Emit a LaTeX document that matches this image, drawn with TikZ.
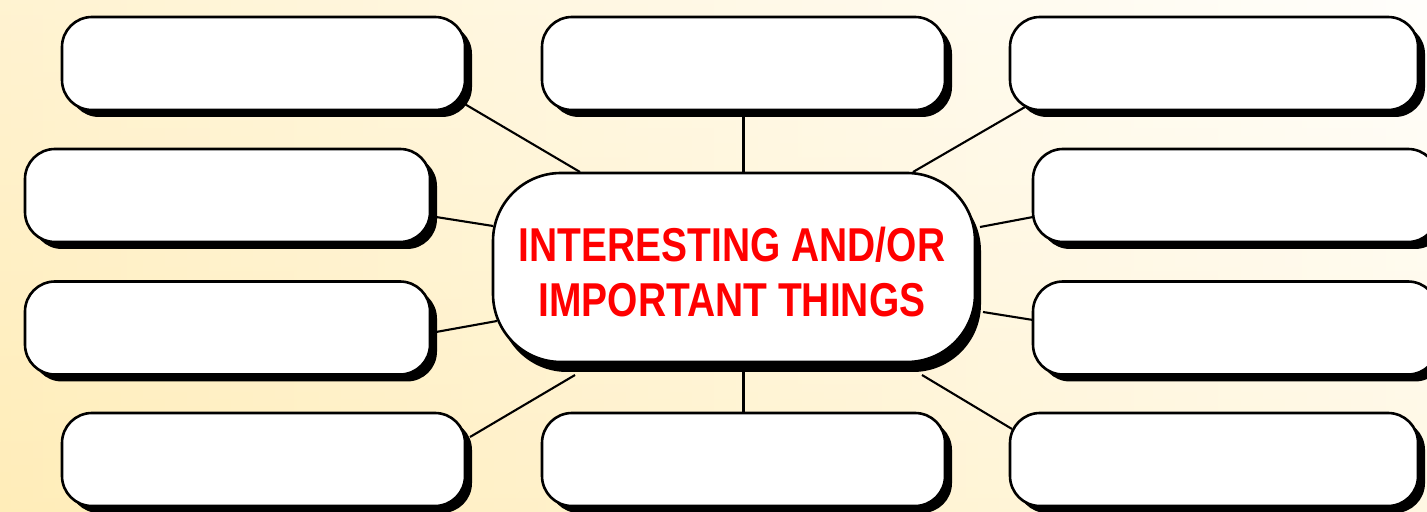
\documentclass[tikz,border=0pt]{standalone}
\usepackage{fontspec}
\newfontfamily\titlefont[FakeStretch=0.82]{Liberation Sans}
\usetikzlibrary{shadows}
\definecolor{bgL}{HTML}{FFEDB9}
\definecolor{bgM}{HTML}{FFF4D6}
\definecolor{bgR}{HTML}{FFFEFA}
\definecolor{titlered}{HTML}{FF0000}
\begin{document}
\begin{tikzpicture}[x=0.5pt,y=-0.5pt,
  box/.style={draw=black, line width=1.3pt, fill=white, rounded corners=15pt,
    inner sep=0pt, minimum width=201.5pt, minimum height=46.5pt,
    drop shadow={shadow xshift=3.5pt, shadow yshift=-3.5pt, fill=black, opacity=1}},
  hub/.style={draw=black, line width=1.3pt, fill=white, rounded corners=34pt,
    inner sep=0pt, minimum width=241pt, minimum height=94.5pt,
    drop shadow={shadow xshift=3pt, shadow yshift=-5pt, fill=black, opacity=1}},
  conn/.style={draw=black, line width=1.05pt},
  title/.style={text=titlered, align=center, font=\titlefont\bfseries\fontsize{23.75}{27.5}\selectfont}]
\useasboundingbox (0,0) rectangle (1427,512);
\clip (0,0) rectangle (1427,512);
% background
\shade[left color=bgL, right color=bgR] (0,0) rectangle (1427,512);
\shade[top color=white, bottom color=bgL, opacity=0.35] (0,0) rectangle (1427,512);
\path (734,267.5) coordinate (cpos);
% boxes
\node[box, minimum width=201.5pt] (tl) at (263.5,63.5) {};
\node[box, minimum width=201.5pt] (tm) at (743.5,63.5) {};
\node[box, minimum width=204pt] (tr) at (1214,63.5) {};
\node[box, minimum width=202.5pt] (l2) at (227.5,195.5) {};
\node[box, minimum width=202.5pt] (l3) at (227.5,328) {};
\node[box, minimum width=202.5pt] (r2) at (1235.5,195.5) {};
\node[box, minimum width=202.5pt] (r3) at (1235.5,328) {};
\node[box, minimum width=201.5pt] (bl) at (263.5,459.5) {};
\node[box, minimum width=201.5pt] (bm) at (743.5,459.5) {};
\node[box, minimum width=204pt] (br) at (1214,459.5) {};
\node[hub] (c) at (cpos) {};
% connectors
\draw[conn] ([shift={(199.5,39.5)}]tl.center) -- ([shift={(-154,-95.5)}]c.center);
\draw[conn] (tm.south) -- (tm.south |- c.north);
\draw[conn] ([shift={(-189,43.5)}]tr.center) -- ([shift={(179,-95.5)}]c.center);
\draw[conn] ([shift={(208.5,21.5)}]l2.center) -- ([shift={(-241,-41.5)}]c.center);
\draw[conn] ([shift={(208.5,4)}]l3.center) -- ([shift={(-237,53.5)}]c.center);
\draw[conn] ([shift={(-202.5,21.5)}]r2.center) -- ([shift={(246,-40.5)}]c.center);
\draw[conn] ([shift={(-202.5,-8)}]r3.center) -- ([shift={(249,44.5)}]c.center);
\draw[conn] ([shift={(206.5,-22.5)}]bl.center) -- ([shift={(-159,107.5)}]c.center);
\draw[conn] (bm.north) -- (bm.north |- c.south);
\draw[conn] ([shift={(-202,-30.5)}]br.center) -- ([shift={(188,107.5)}]c.center);
\node[title] (ct) at (732,272.5) {INTERESTING AND/OR\\IMPORTANT THINGS};
\end{tikzpicture}
\end{document}
